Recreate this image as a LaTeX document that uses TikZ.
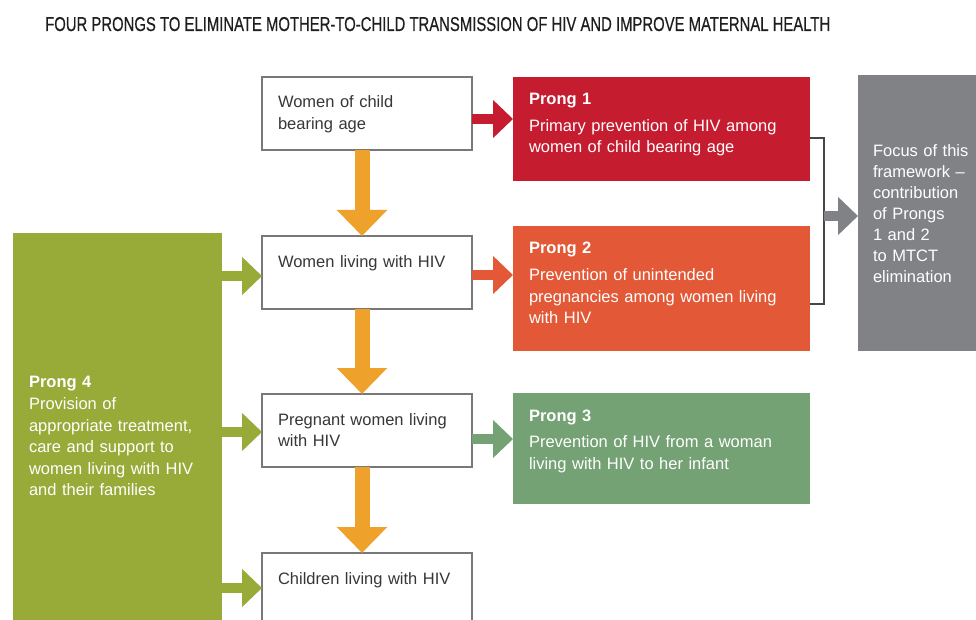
\documentclass[tikz,border=0pt]{standalone}
\usepackage{fontspec}
\setmainfont{Liberation Sans}
\newfontfamily\titlefont[FakeBold=0.6]{Liberation Sans}
\usepackage{graphicx}
\usetikzlibrary{arrows.meta, calc}
\newcommand{\diagfont}{\fontsize{16.5}{21.5}\selectfont}
\newcommand{\focusfont}{\fontsize{16.5}{21}\selectfont}

\begin{document}
\begin{tikzpicture}[x=1pt,y=-1pt,
  stagebox/.style={draw=boxline, line width=1.2pt, fill=white, anchor=north west,
    text width=178pt, inner xsep=16pt, inner ysep=0pt, outer sep=0pt,
    text height=31pt, text depth=42pt, align=left, text=stagetext, font=\diagfont},
  prongbox/.style={fill=#1, anchor=north west, text width=265pt, inner xsep=16pt,
    inner ysep=0pt, outer sep=0pt, text height=28pt, align=left, text=white, font=\diagfont},
  prongarrow/.style={#1, line width=9.5pt, -{Triangle[length=20pt,width=37pt]}},
  stemarrow/.style={stemorange, line width=15pt, -{Triangle[length=26pt,width=49pt]}},
  bracketline/.style={draw=bracketgray, line width=1.5pt}]
  \definecolor{prongone}{RGB}{198,28,48}
  \definecolor{prongtwo}{RGB}{227,88,54}
  \definecolor{prongthree}{RGB}{116,162,116}
  \definecolor{prongfour}{RGB}{152,170,56}
  \definecolor{focusgray}{RGB}{128,130,133}
  \definecolor{stemorange}{RGB}{238,162,44}
  \definecolor{boxline}{RGB}{120,120,120}
  \definecolor{stagetext}{RGB}{55,55,55}
  \definecolor{bracketgray}{RGB}{70,70,70}
  \definecolor{titlegray}{RGB}{30,30,30}
  \useasboundingbox (0,0) rectangle (976,620);

  \node[anchor=base west, inner sep=0pt, text=titlegray] (title) at (45,31)
    {\resizebox{785pt}{14pt}{\titlefont FOUR PRONGS TO ELIMINATE MOTHER-TO-CHILD TRANSMISSION OF HIV AND IMPROVE MATERNAL HEALTH}};

  % stages of the cascade
  \node[stagebox] (childbearing) at (262,77) {Women of child\\bearing age};
  \node[stagebox] (livingwith) at (262,236) {Women living with HIV};
  \node[stagebox] (pregnant) at (262,394) {Pregnant women living\\with HIV};
  \node[stagebox] (children) at (262,553) {Children living with HIV};

  % the four prongs
  \node[prongbox=prongone, text depth=76pt] (primary) at (513,77)
    {\textbf{Prong 1}\\[5pt]Primary prevention of HIV among\\women of child bearing age};
  \node[prongbox=prongtwo, text depth=97pt] (unintended) at (513,226)
    {\textbf{Prong 2}\\[5pt]Prevention of unintended\\pregnancies among women living\\with HIV};
  \node[prongbox=prongthree, text depth=83pt] (infant) at (513,393)
    {\textbf{Prong 3}\\[5pt]Prevention of HIV from a woman\\living with HIV to her infant};
  \node[prongbox=prongfour, text width=177pt, text height=154pt, text depth=253pt] (care) at (13,233)
    {\textbf{Prong 4}\\[1pt]Provision of\\appropriate treatment,\\care and support to\\women living with HIV\\and their families};
  \node[prongbox=focusgray, text width=120pt, inner xsep=15pt, text height=82pt, text depth=194pt,
    font=\focusfont] (focus) at (858,75)
    {Focus of this\\framework --\\contribution\\of Prongs\\1 and 2\\to MTCT\\elimination};

  % downward flow
  \draw[stemarrow] ([xshift=-5pt]childbearing.south) -- ([xshift=-5pt]livingwith.north);
  \draw[stemarrow] ([xshift=-5pt]livingwith.south) -- ([xshift=-5pt]pregnant.north);
  \draw[stemarrow] ([xshift=-5pt]pregnant.south) -- ([xshift=-5pt]children.north);

  % stages to prongs 1-3
  \coordinate (toone) at ([yshift=-5.5pt]childbearing.east);
  \coordinate (totwo) at ([yshift=-2.5pt]livingwith.east);
  \coordinate (tothree) at ([yshift=-8.5pt]pregnant.east);
  \draw[prongarrow=prongone] (toone) -- (toone -| primary.west);
  \draw[prongarrow=prongtwo] (totwo) -- (totwo -| unintended.west);
  \draw[prongarrow=prongthree] (tothree) -- (tothree -| infant.west);

  % prong 4 to the stages
  \coordinate (fromfour) at ([yshift=-3.5pt]livingwith.west);
  \coordinate (fromfourb) at ([yshift=-1.5pt]pregnant.west);
  \coordinate (fromfourc) at ([yshift=1.5pt]children.west);
  \draw[prongarrow=prongfour] (fromfour -| care.east) -- (fromfour);
  \draw[prongarrow=prongfour] (fromfourb -| care.east) -- (fromfourb);
  \draw[prongarrow=prongfour] (fromfourc -| care.east) -- (fromfourc);

  % bracket round prongs 1 and 2
  \coordinate (bone) at ([yshift=-9pt]primary.east);
  \coordinate (btwo) at ([yshift=-15.5pt]unintended.east);
  \coordinate (fork) at (824,216);
  \draw[bracketline] (bone) -| (fork) |- (btwo);
  \draw[prongarrow=focusgray] (fork) -- (fork -| focus.west);
\end{tikzpicture}
\end{document}
